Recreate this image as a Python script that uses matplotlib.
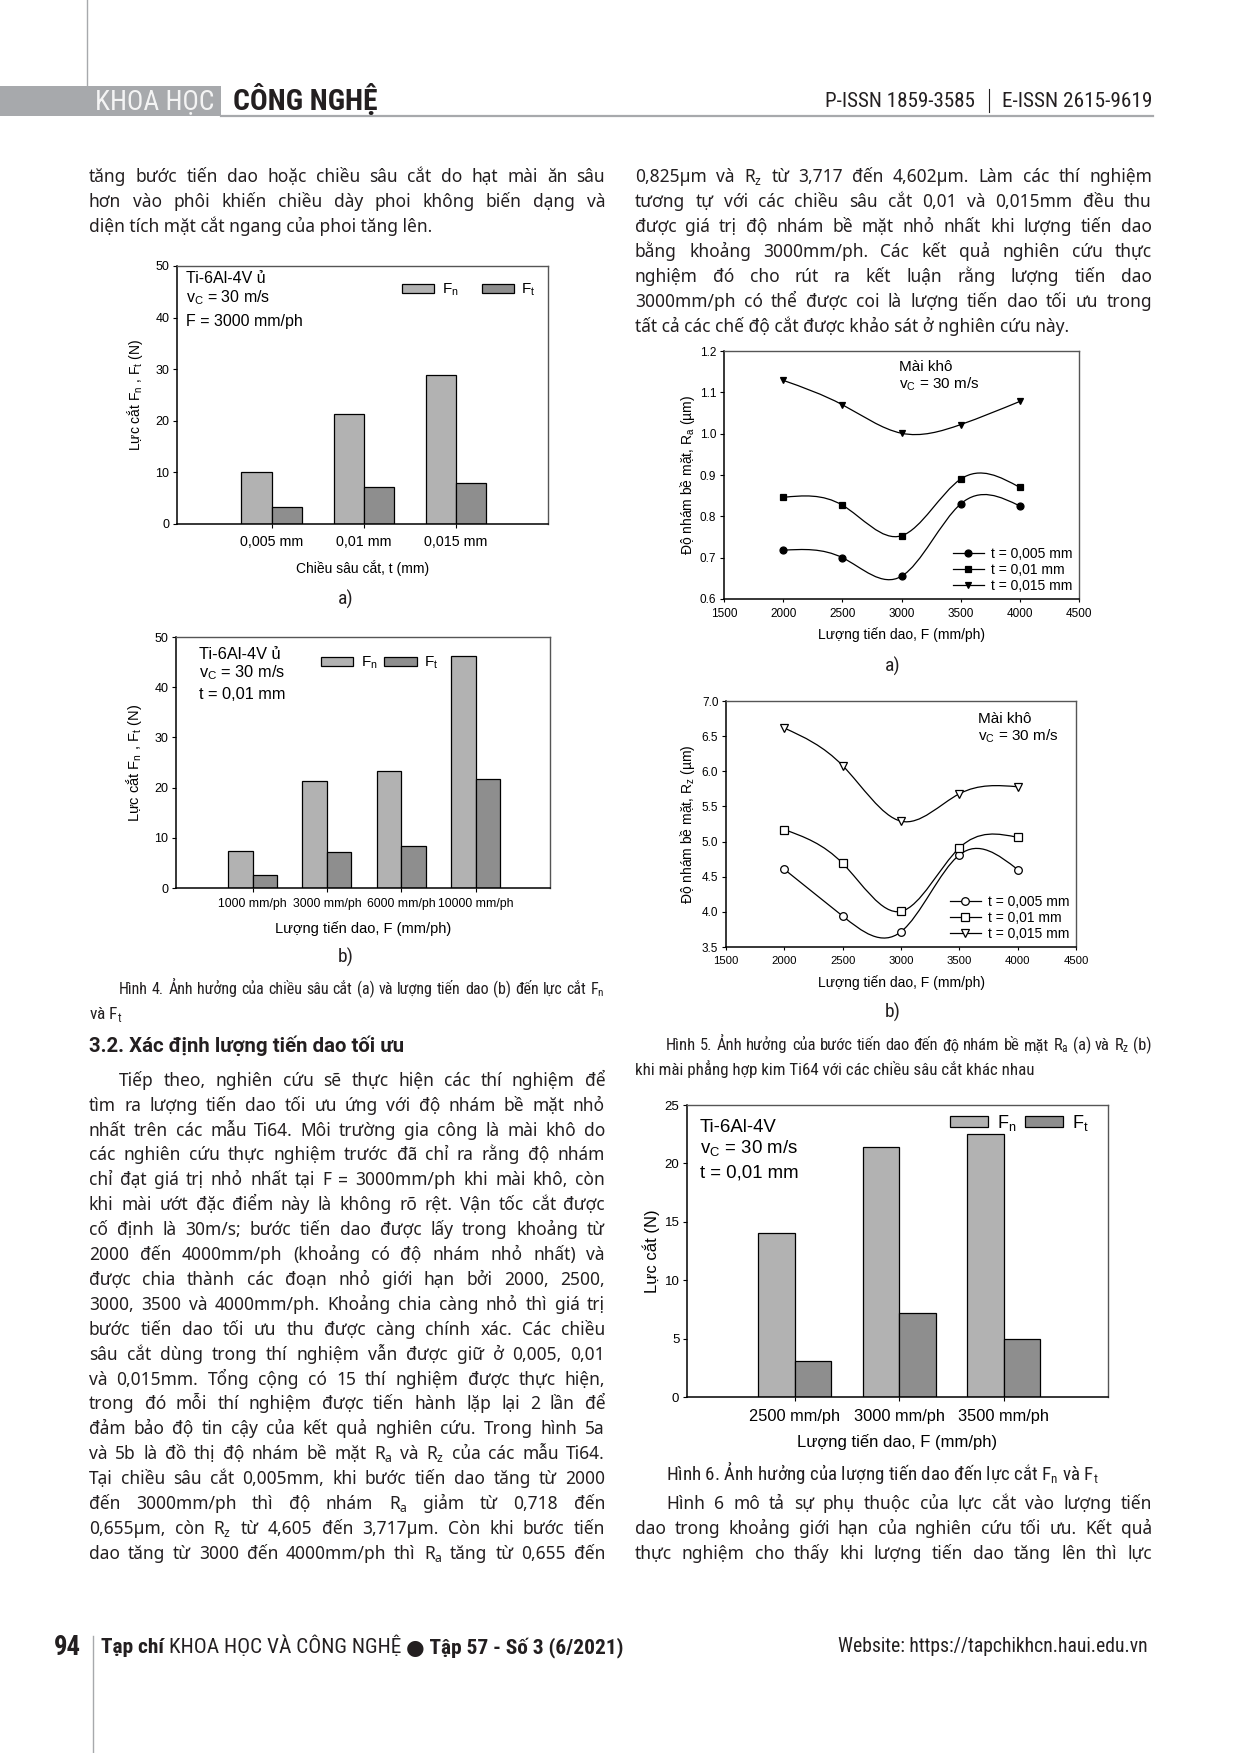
import numpy as np
import matplotlib
matplotlib.use("Agg")
import matplotlib.pyplot as plt
from matplotlib.path import Path
from matplotlib.patches import PathPatch, Rectangle
from matplotlib.lines import Line2D

# ---- data ----
depth_labels = ["0,005 mm", "0,01 mm", "0,015 mm"]
depth_fn = [10.0, 21.4, 28.8]
depth_ft = [3.2, 7.2, 7.9]

feed_labels = ["1000 mm/ph", "3000 mm/ph", "6000 mm/ph", "10000 mm/ph"]
feed_fn = [7.4, 21.4, 23.4, 46.3]
feed_ft = [2.5, 7.2, 8.3, 21.7]

feed_pts = [2000, 2500, 3000, 3500, 4000]
ra_005 = [0.718, 0.700, 0.655, 0.830, 0.825]
ra_010 = [0.846, 0.827, 0.753, 0.890, 0.870]
ra_015 = [1.129, 1.070, 1.001, 1.022, 1.078]
rz_005 = [4.605, 3.94, 3.717, 4.81, 4.602]
rz_010 = [5.17, 4.69, 4.007, 4.91, 5.06]
rz_015 = [6.615, 6.08, 5.29, 5.68, 5.78]
depth_names = ["t = 0,005 mm", "t = 0,01 mm", "t = 0,015 mm"]

opt_labels = ["2500 mm/ph", "3000 mm/ph", "3500 mm/ph"]
opt_fn = [14.0, 21.4, 22.5]
opt_ft = [3.1, 7.2, 5.0]

# ---- page text ----
left_top = [
    "tăng bước tiến dao hoặc chiều sâu cắt do hạt mài ăn sâu",
    "hơn vào phôi khiến chiều dày phoi không biến dạng và",
    "diện tích mặt cắt ngang của phoi tăng lên.",
]
right_top = [
    r"0,825µm và R$_\mathregular{z}$ từ 3,717 đến 4,602µm. Làm các thí nghiệm",
    "tương tự với các chiều sâu cắt 0,01 và 0,015mm đều thu",
    "được giá trị độ nhám bề mặt nhỏ nhất khi lượng tiến dao",
    "bằng khoảng 3000mm/ph. Các kết quả nghiên cứu thực",
    "nghiệm đó cho rút ra kết luận rằng lượng tiến dao",
    "3000mm/ph có thể được coi là lượng tiến dao tối ưu trong",
    "tất cả các chế độ cắt được khảo sát ở nghiên cứu này.",
]
left_body = [
    "Tiếp theo, nghiên cứu sẽ thực hiện các thí nghiệm để",
    "tìm ra lượng tiến dao tối ưu ứng với độ nhám bề mặt nhỏ",
    "nhất trên các mẫu Ti64. Môi trường gia công là mài khô do",
    "các nghiên cứu thực nghiệm trước đã chỉ ra rằng độ nhám",
    "chỉ đạt giá trị nhỏ nhất tại F = 3000mm/ph khi mài khô, còn",
    "khi mài ướt đặc điểm này là không rõ rệt. Vận tốc cắt được",
    "cố định là 30m/s; bước tiến dao được lấy trong khoảng từ",
    "2000 đến 4000mm/ph (khoảng có độ nhám nhỏ nhất) và",
    "được chia thành các đoạn nhỏ giới hạn bởi 2000, 2500,",
    "3000, 3500 và 4000mm/ph. Khoảng chia càng nhỏ thì giá trị",
    "bước tiến dao tối ưu thu được càng chính xác. Các chiều",
    "sâu cắt dùng trong thí nghiệm vẫn được giữ ở 0,005, 0,01",
    "và 0,015mm. Tổng cộng có 15 thí nghiệm được thực hiện,",
    "trong đó mỗi thí nghiệm được tiến hành lặp lại 2 lần để",
    "đảm bảo độ tin cậy của kết quả nghiên cứu. Trong hình 5a",
    r"và 5b là đồ thị độ nhám bề mặt R$_\mathregular{a}$ và R$_\mathregular{z}$ của các mẫu Ti64.",
    "Tại chiều sâu cắt 0,005mm, khi bước tiến dao tăng từ 2000",
    r"đến 3000mm/ph thì độ nhám R$_\mathregular{a}$ giảm từ 0,718 đến",
    r"0,655µm, còn R$_\mathregular{z}$ từ 4,605 đến 3,717µm. Còn khi bước tiến",
    r"dao tăng từ 3000 đến 4000mm/ph thì R$_\mathregular{a}$ tăng từ 0,655 đến",
]
right_body = [
    "Hình 6 mô tả sự phụ thuộc của lực cắt vào lượng tiến",
    "dao trong khoảng giới hạn của nghiên cứu tối ưu. Kết quả",
    "thực nghiệm cho thấy khi lượng tiến dao tăng lên thì lực",
]

W, H = 1240, 1753
INK = "#231f20"
GRAY = "#a7a9ac"
FN_COLOR = "#b2b2b2"
FT_COLOR = "#8e8e8e"
BODY = ["Noto Sans", "DejaVu Sans"]
COND = ["Roboto Condensed", "Roboto", "DejaVu Sans"]
HEAD = ["Roboto", "DejaVu Sans"]
CHART = ["Liberation Sans", "DejaVu Sans"]

fig = plt.figure(figsize=(12.4, 17.53), dpi=100)
fig.patch.set_facecolor("white")
renderer = fig.canvas.get_renderer()


def fx(x):
    return x / W


def fy(y):
    return 1 - y / H


def base(yc, size):
    return fy(yc + 0.33 * size * 100 / 72)


def line_text(x0, yc, s, size, family=BODY, weight="normal", x1=None, color=INK, ha="left"):
    kw = dict(fontsize=size, family=family, weight=weight, color=color, va="baseline", ha=ha)
    if x1 is None:
        return fig.text(fx(x0), base(yc, size), s, **kw)
    words = s.split(" ")
    texts = [fig.text(fx(x0), base(yc, size), w, **kw) for w in words]
    while True:
        widths = [t.get_window_extent(renderer).width for t in texts]
        gap = (x1 - x0 - sum(widths)) / max(len(words) - 1, 1)
        if gap > 0.2 * size * 100 / 72 or size < 6:
            break
        size *= 0.97
        for t in texts:
            t.set_fontsize(size)
            t.set_y(base(yc, size))
    x = x0
    for t, w in zip(texts, widths):
        t.set_x(fx(x))
        x += w + gap
    return texts


def fit_run(x0, x1, yc, pieces, family, color=INK, size0=14.0):
    # pieces: (string, weight); scaled together so the run spans x0..x1
    texts = [fig.text(0, 0, s, fontsize=size0, family=family, weight=wt, color=color,
                      va="baseline") for s, wt in pieces]
    total = sum(t.get_window_extent(renderer).width for t in texts)
    size = size0 * (x1 - x0) / total
    x = x0
    for t in texts:
        t.set_fontsize(size)
        t.set_position((fx(x), base(yc, size)))
        x += t.get_window_extent(renderer).width
    return texts


def add_ax(l, t, r, b):
    return fig.add_axes([fx(l), fy(b), (r - l) / W, (b - t) / H])


def style_ax(ax, ysize, xsize, xpad, xtick_len=4):
    for side in ["left", "bottom"]:
        ax.spines[side].set_linewidth(1.1)
        ax.spines[side].set_color("black")
    for side in ["top", "right"]:
        ax.spines[side].set_linewidth(1.0)
        ax.spines[side].set_color("#555555")
    ax.tick_params(axis="y", direction="out", length=3, width=0.8, pad=2.5,
                   labelsize=ysize, right=False)
    ax.tick_params(axis="x", direction="out", length=xtick_len * 0.72, width=0.8, pad=xpad,
                   labelsize=xsize, top=False)
    for lab in ax.get_xticklabels() + ax.get_yticklabels():
        lab.set_family(CHART)


def place_labels(ax, xlabel, ylabel, xy, yx, size):
    ax.set_xlabel(xlabel, fontsize=size, family=CHART)
    ax.set_ylabel(ylabel, fontsize=size, family=CHART)
    ax.xaxis.set_label_coords(0.5, xy)
    ax.yaxis.set_label_coords(yx, 0.5)
    ax.xaxis.label.set_va("center")
    ax.yaxis.label.set_va("center")


def bar_chart(box, cats, fn, ft, ymax, ystep, width, ysize, xsize, xpad,
              leg_xy, leg_size, colsp):
    ax = add_ax(*box)
    x = np.arange(1, len(cats) + 1)
    ax.bar(x - width / 2, fn, width, color=FN_COLOR, edgecolor="black",
           linewidth=0.9, label=r"F$_\mathregular{n}$")
    ax.bar(x + width / 2, ft, width, color=FT_COLOR, edgecolor="black",
           linewidth=0.9, label=r"F$_\mathregular{t}$")
    ax.set_xlim(-0.03, len(cats) + 1)
    ax.set_ylim(0, ymax)
    ax.set_yticks(np.arange(0, ymax + 0.1, ystep))
    ax.set_xticks(x)
    ax.set_xticklabels(cats)
    style_ax(ax, ysize, xsize, xpad)
    ax.legend(loc="center", bbox_to_anchor=leg_xy, ncol=2, frameon=False,
              handlelength=2.1, handleheight=0.55, handletextpad=0.5,
              columnspacing=colsp, prop={"family": CHART, "size": leg_size})
    return ax


def spline_path(xs, ys):
    xs = np.asarray(xs, float)
    ys = np.asarray(ys, float)
    n = len(xs)
    h = np.diff(xs)
    A = np.zeros((n, n))
    b = np.zeros(n)
    A[0, 0] = A[-1, -1] = 1
    for i in range(1, n - 1):
        A[i, i - 1] = h[i - 1]
        A[i, i] = 2 * (h[i - 1] + h[i])
        A[i, i + 1] = h[i]
        b[i] = 6 * ((ys[i + 1] - ys[i]) / h[i] - (ys[i] - ys[i - 1]) / h[i - 1])
    M = np.linalg.solve(A, b)
    verts = [(xs[0], ys[0])]
    codes = [Path.MOVETO]
    for i in range(n - 1):
        s = (ys[i + 1] - ys[i]) / h[i]
        d0 = s - h[i] * (2 * M[i] + M[i + 1]) / 6
        d1 = s + h[i] * (M[i] + 2 * M[i + 1]) / 6
        verts += [(xs[i] + h[i] / 3, ys[i] + d0 * h[i] / 3),
                  (xs[i + 1] - h[i] / 3, ys[i + 1] - d1 * h[i] / 3),
                  (xs[i + 1], ys[i + 1])]
        codes += [Path.CURVE4] * 3
    return Path(verts, codes)


def line_chart(box, series, markers, filled, ylim, ystep, fmt, ysize, xsize, msize):
    ax = add_ax(*box)
    handles = []
    for ys, mk, name in zip(series, markers, depth_names):
        ax.add_patch(PathPatch(spline_path(feed_pts, ys), fill=False, lw=0.9,
                               edgecolor="black", zorder=2))
        face = "black" if filled else "white"
        ax.plot(feed_pts, ys, ls="none", marker=mk, ms=msize, mfc=face,
                mec="black", mew=0.9, zorder=3)
        handles.append(Line2D([], [], color="black", lw=0.9, marker=mk, ms=msize,
                              mfc=face, mec="black", mew=0.9, label=name))
    ax.set_xlim(1500, 4500)
    ax.set_xticks(np.arange(1500, 4501, 500))
    ax.set_ylim(*ylim)
    ticks = np.arange(ylim[0], ylim[1] + 1e-9, ystep)
    ax.set_yticks(ticks)
    ax.set_yticklabels([fmt % v for v in ticks])
    style_ax(ax, ysize, xsize, 4.5, xtick_len=3)
    ax.legend(handles=handles, loc="lower right", frameon=False, borderaxespad=0.15,
              borderpad=0.3, labelspacing=0.15, handlelength=2.2, handletextpad=0.55,
              prop={"family": CHART, "size": 10})
    return ax


# ---- header ----
fig.add_artist(Line2D([fx(87), fx(87)], [fy(0), fy(86)], color=GRAY, lw=1.0))
fig.add_artist(Rectangle((0, fy(116)), fx(221), 30 / H, transform=fig.transFigure,
                         facecolor=GRAY, edgecolor="none"))
fig.add_artist(Line2D([fx(221), fx(1153)], [fy(116), fy(116)], color=GRAY, lw=1.6))
fit_run(95, 215, 100, [("KHOA HỌC", "normal")], COND, color="#f4f4f4")
fit_run(233, 378, 100, [("CÔNG NGHỆ", "bold")], COND)
fit_run(825, 975, 100, [("P-ISSN 1859-3585", "normal")], COND)
fig.add_artist(Line2D([fx(989), fx(989)], [fy(89), fy(112)], color=INK, lw=0.8))
fit_run(1002, 1153, 100, [("E-ISSN 2615-9619", "normal")], COND)

# ---- top paragraphs ----
for i, s in enumerate(left_top):
    line_text(89, 176 + 25 * i, s, 12.5, x1=None if i == len(left_top) - 1 else 605)
for i, s in enumerate(right_top):
    line_text(635, 176 + 25.1 * i, s, 12.5, x1=None if i == len(right_top) - 1 else 1152)

# ---- Figure 4a ----
ax = bar_chart((177, 266, 548, 524), depth_labels, depth_fn, depth_ft, 50, 10, 0.33,
               9, 10.3, 5.4, (0.787, 0.907), 11, 1.5)
place_labels(ax, "Chiều sâu cắt, t (mm)",
             r"Lực cắt F$_\mathregular{n}$ , F$_\mathregular{t}$ (N)", -0.171, -0.113, 10)
for yb, s in zip([283, 302, 326], ["Ti-6Al-4V ủ", r"v$_\mathregular{C}$ = 30 m/s",
                                   "F = 3000 mm/ph"]):
    fig.text(fx(186), fy(yb), s, fontsize=11.5, family=CHART, va="baseline")
line_text(346, 598, "a)", 14, family=COND, ha="center")

# ---- Figure 4b ----
ax = bar_chart((176, 637, 550, 888), feed_labels, feed_fn, feed_ft, 50, 10, 0.33,
               9, 8.8, 4.0, (0.545, 0.896), 11, 0.45)
place_labels(ax, "Lượng tiến dao, F (mm/ph)",
             r"Lực cắt F$_\mathregular{n}$ , F$_\mathregular{t}$ (N)", -0.163, -0.112, 10.5)
for yb, s in zip([659, 677, 699], ["Ti-6Al-4V ủ", r"v$_\mathregular{C}$ = 30 m/s",
                                   "t = 0,01 mm"]):
    fig.text(fx(199), fy(yb), s, fontsize=11.8, family=CHART, va="baseline")
line_text(346, 956, "b)", 14, family=COND, ha="center")

line_text(119, 989, r"Hình 4. Ảnh hưởng của chiều sâu cắt (a) và lượng tiến dao (b) đến lực cắt F$_\mathregular{n}$",
          13, family=COND, x1=605)
line_text(89, 1013, r"và F$_\mathregular{t}$", 12.5, family=COND)

# ---- section 3.2 ----
fit_run(89, 405, 1045, [("3.2. Xác định lượng tiến dao tối ưu", "bold")], HEAD)
for i, s in enumerate(left_body):
    line_text(119 if i == 0 else 89, 1080 + 24.9 * i, s, 12.5, x1=605)

# ---- Figure 5a ----
ax = line_chart((724, 351, 1079, 599), [ra_005, ra_010, ra_015], ["o", "s", "v"], True,
                (0.6, 1.2), 0.1, "%.1f", 8.5, 8.5, 5)
place_labels(ax, "Lượng tiến dao, F (mm/ph)",
             r"Độ nhám bề mặt, R$_\mathregular{a}$ (µm)", -0.143, -0.104, 10)
fig.text(fx(899), fy(371), "Mài khô", fontsize=11, family=CHART, va="baseline")
fig.text(fx(899), fy(388), r"v$_\mathregular{C}$ = 30 m/s", fontsize=11, family=CHART,
         va="baseline")
line_text(893, 665, "a)", 14, family=COND, ha="center")

# ---- Figure 5b ----
ax = line_chart((726, 701, 1076, 947), [rz_005, rz_010, rz_015], ["o", "s", "v"], False,
                (3.5, 7.0), 0.5, "%.1f", 8.5, 8.2, 5.5)
place_labels(ax, "Lượng tiến dao, F (mm/ph)",
             r"Độ nhám bề mặt, R$_\mathregular{z}$ (µm)", -0.146, -0.111, 10)
fig.text(fx(978), fy(723), "Mài khô", fontsize=11, family=CHART, va="baseline")
fig.text(fx(978), fy(740), r"v$_\mathregular{C}$ = 30 m/s", fontsize=11, family=CHART,
         va="baseline")
line_text(893, 1011, "b)", 14, family=COND, ha="center")

line_text(666, 1045, r"Hình 5. Ảnh hưởng của bước tiến dao đến độ nhám bề mặt R$_\mathregular{a}$ (a) và R$_\mathregular{z}$ (b)",
          13, family=COND, x1=1152)
line_text(635, 1069, "khi mài phẳng hợp kim Ti64 với các chiều sâu cắt khác nhau", 12.2,
          family=COND)

# ---- Figure 6 ----
ax = bar_chart((687, 1105, 1108, 1397), opt_labels, opt_fn, opt_ft, 25, 5, 0.35,
               9.5, 11.8, 6.0, (0.79, 0.938), 13, 0.5)
place_labels(ax, "Lượng tiến dao, F (mm/ph)", "Lực cắt (N)", -0.154, -0.085, 12)
for yb, s in zip([1132, 1154, 1178], ["Ti-6Al-4V", r"v$_\mathregular{C}$ = 30 m/s",
                                      "t = 0,01 mm"]):
    fig.text(fx(700), fy(yb), s, fontsize=13.4, family=CHART, va="baseline")

fit_run(666, 1099, 1474,
        [(r"Hình 6. Ảnh hưởng của lượng tiến dao đến lực cắt F$_\mathregular{n}$ và F$_\mathregular{t}$",
          "normal")], COND)
for i, s in enumerate(right_body):
    line_text(666 if i == 0 else 635, 1080 + 24.9 * (17 + i), s, 12.5, x1=1152)

# ---- footer ----
fig.add_artist(Line2D([fx(93), fx(93)], [fy(1636), fy(1753)], color=GRAY, lw=1.0))
fit_run(54, 81, 1646, [("94", "bold")], COND)
fit_run(101, 627, 1646, [("Tạp chí ", "bold"), ("KHOA HỌC VÀ CÔNG NGHỆ ", "normal"),
                         ("● Tập 57 - Số 3 (6/2021)", "bold")], COND)
fit_run(838, 1150, 1646, [("Website: https://tapchikhcn.haui.edu.vn", "normal")], COND)

fig.savefig("out.png", dpi=100)
